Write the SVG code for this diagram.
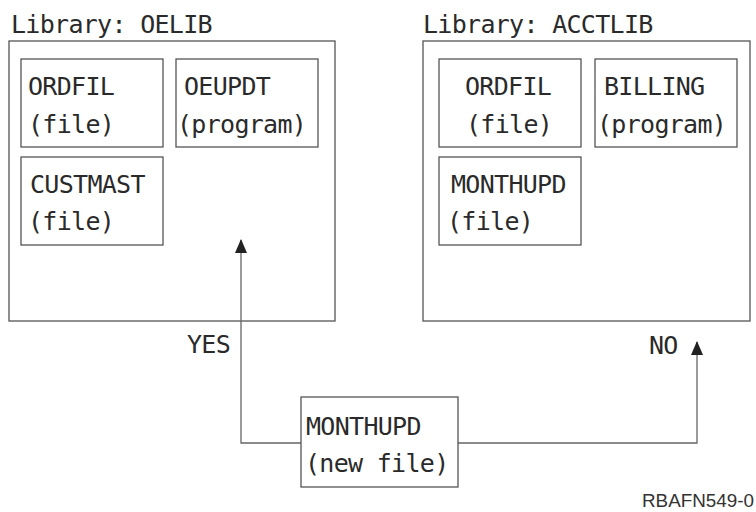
<svg xmlns="http://www.w3.org/2000/svg" width="756" height="512" viewBox="0 0 756 512">
  <defs>
    <style>
      .t { font-family: "DejaVu Sans Mono", "Liberation Mono", monospace; font-size: 25px; letter-spacing: -0.7px; fill: #2a2a2a; }
      .box { fill: #fff; stroke: #555; stroke-width: 1.3; }
      .lib { fill: none; stroke: #555; stroke-width: 1.3; }
      .conn { fill: none; stroke: #666; stroke-width: 1.3; }
      .id { font-family: "Liberation Sans", Arial, sans-serif; font-size: 19px; fill: #333; }
    </style>
    <marker id="arr" viewBox="0 0 14 12" refX="13" refY="6" markerWidth="14" markerHeight="12" markerUnits="userSpaceOnUse" orient="auto">
      <path d="M0,0 L14,6 L0,12 Z" fill="#222"/>
    </marker>
  </defs>
  <rect width="756" height="512" fill="#fff"/>

  <g id="lib-oelib">
    <text class="t" x="11" y="33">Library: OELIB</text>
    <rect class="lib" x="9" y="41" width="326" height="280"/>
  </g>
  <g id="oelib-ordfil">
    <rect class="box" x="21" y="59" width="142" height="88"/>
    <text class="t" x="28" y="95">ORDFIL</text>
    <text class="t" x="28" y="133">(file)</text>
  </g>
  <g id="oelib-oeupdt">
    <rect class="box" x="176" y="59" width="142" height="88"/>
    <text class="t" x="184" y="95">OEUPDT</text>
    <text class="t" x="177" y="133">(program)</text>
  </g>
  <g id="oelib-custmast">
    <rect class="box" x="21" y="157" width="142" height="88"/>
    <text class="t" x="30" y="193">CUSTMAST</text>
    <text class="t" x="28" y="230">(file)</text>
  </g>

  <g id="lib-acctlib">
    <text class="t" x="423" y="33">Library: ACCTLIB</text>
    <rect class="lib" x="423" y="41" width="327" height="280"/>
  </g>
  <g id="acctlib-ordfil">
    <rect class="box" x="439" y="59" width="142" height="88"/>
    <text class="t" x="465" y="95">ORDFIL</text>
    <text class="t" x="466" y="133">(file)</text>
  </g>
  <g id="acctlib-billing">
    <rect class="box" x="595" y="59" width="142" height="88"/>
    <text class="t" x="604" y="95">BILLING</text>
    <text class="t" x="597" y="133">(program)</text>
  </g>
  <g id="acctlib-monthupd">
    <rect class="box" x="439" y="157" width="142" height="88"/>
    <text class="t" x="451" y="193">MONTHUPD</text>
    <text class="t" x="447" y="230">(file)</text>
  </g>

  <g id="connectors">
    <path class="conn" d="M301,443 H241 V240" marker-end="url(#arr)"/>
    <path class="conn" d="M458,443 H697 V342" marker-end="url(#arr)"/>
  </g>

  <g id="new-monthupd">
    <rect class="box" x="301" y="397" width="157" height="90"/>
    <text class="t" x="306" y="435">MONTHUPD</text>
    <text class="t" x="305" y="472">(new file)</text>
  </g>

  <g id="labels">
    <text class="t" x="187" y="353">YES</text>
    <text class="t" x="649" y="354">NO</text>
    <text class="id" x="642" y="507" textLength="112" lengthAdjust="spacingAndGlyphs">RBAFN549-0</text>
  </g>
</svg>
